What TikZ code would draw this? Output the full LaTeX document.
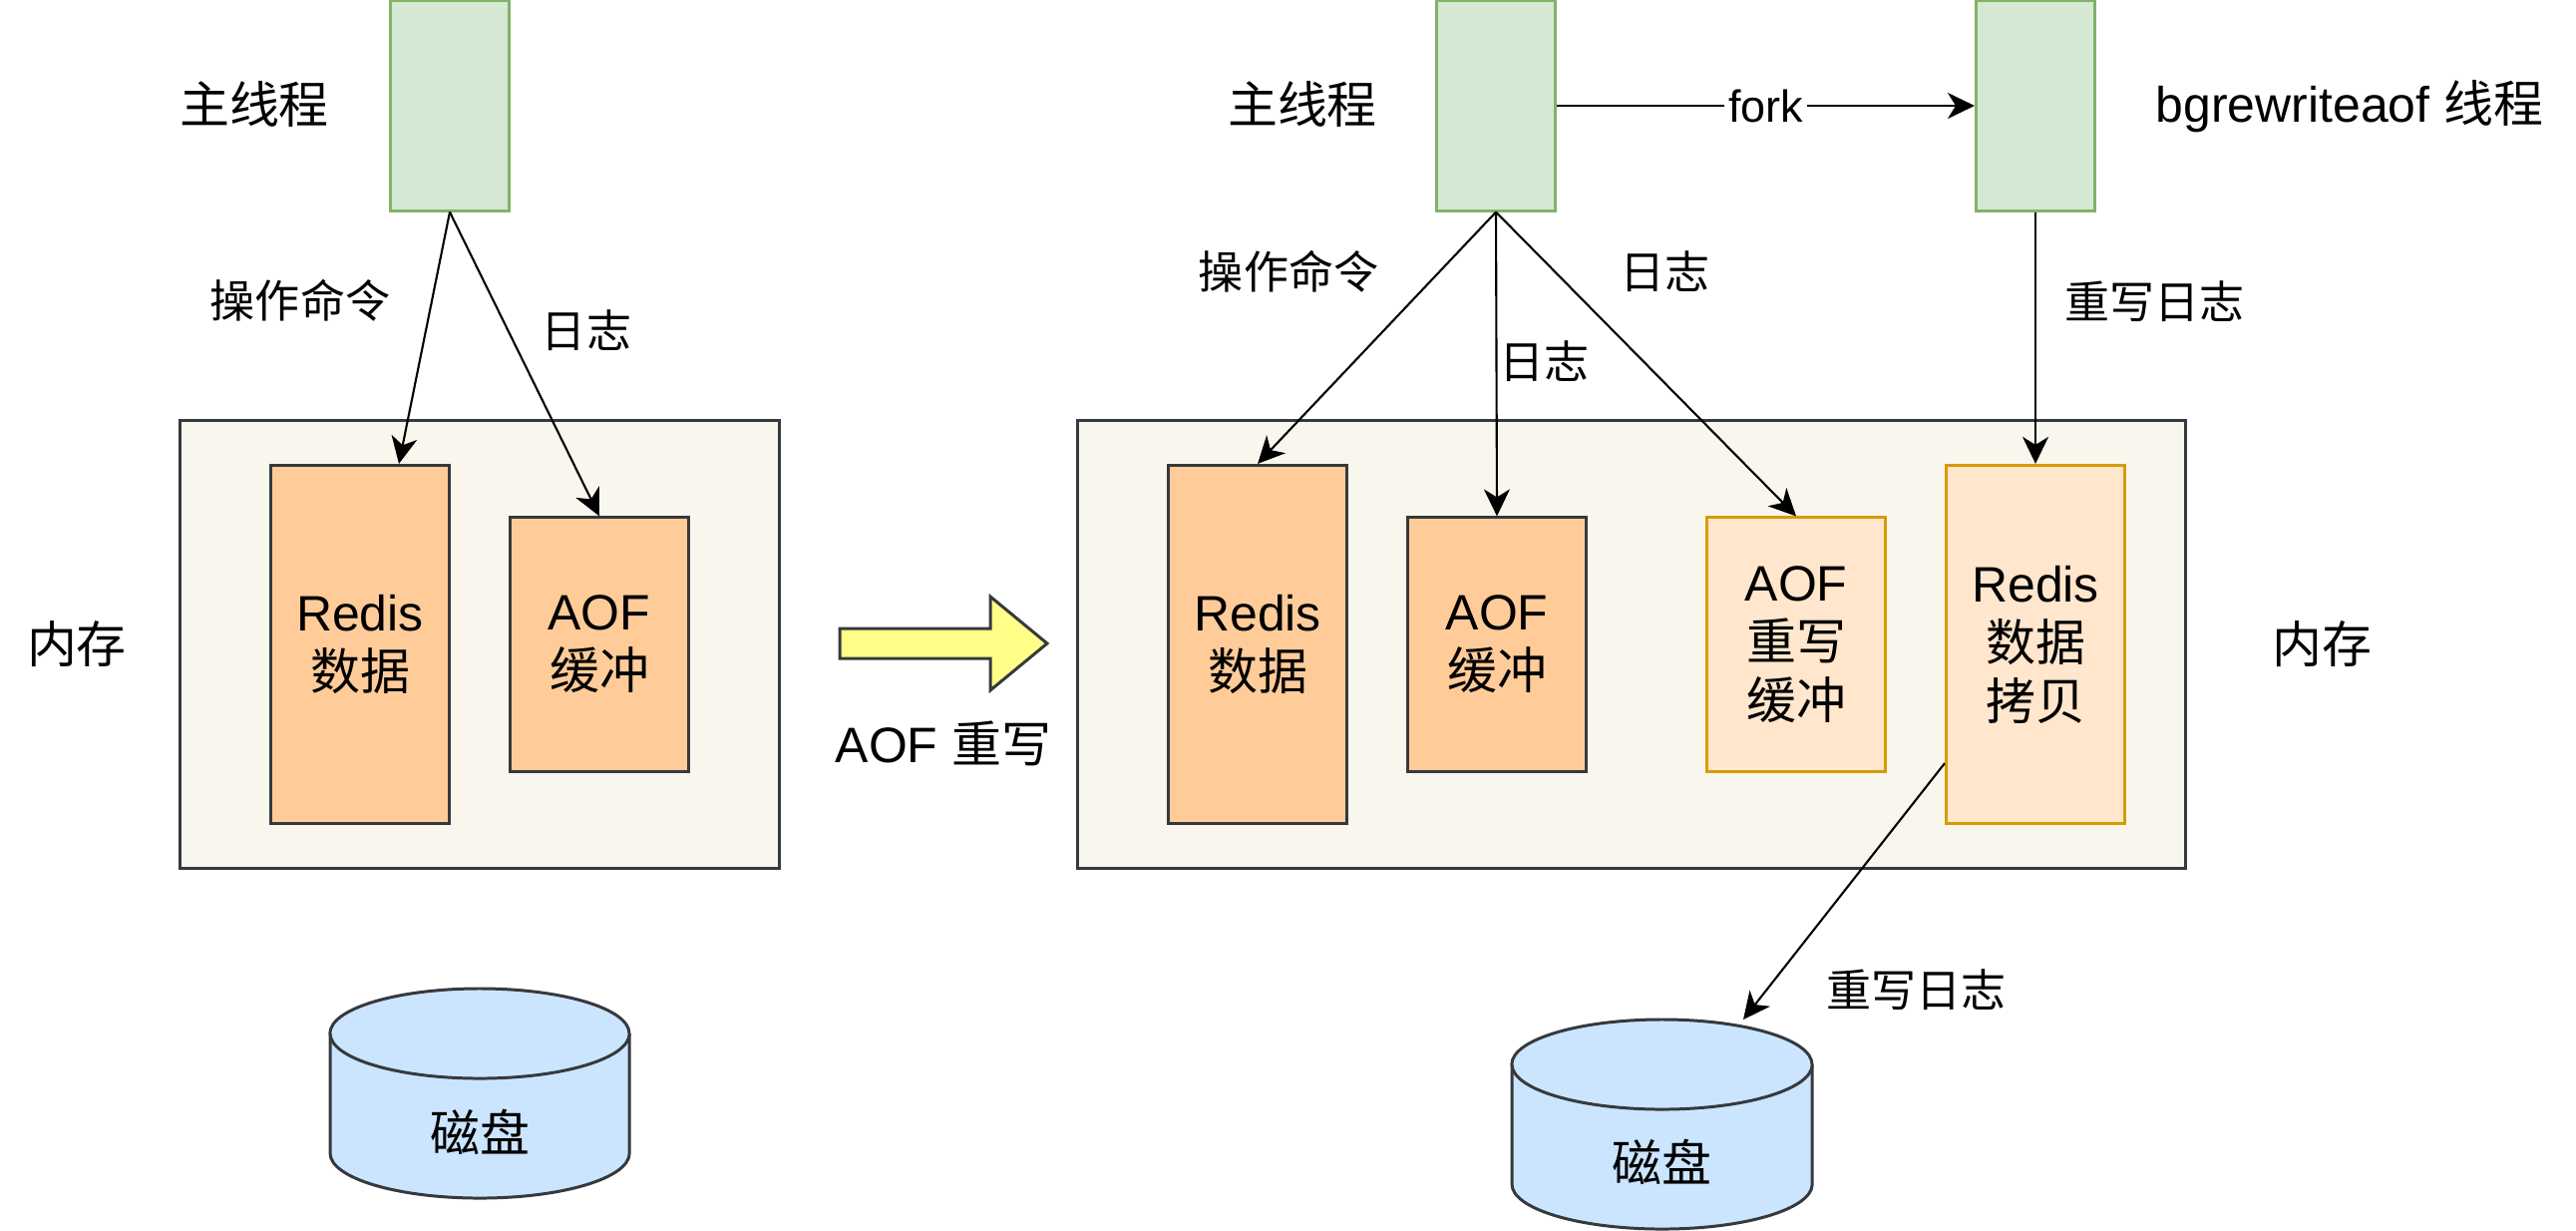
\documentclass[tikz,border=0pt]{standalone}
\usepackage{fontspec}
\setmainfont{Liberation Sans}
\newfontfamily\cjk{Noto Sans CJK SC}
\usetikzlibrary{arrows.meta,calc}
\definecolor{threadfill}{HTML}{D5E8D4}
\definecolor{threadline}{HTML}{82B366}
\definecolor{darkline}{HTML}{36393D}
\definecolor{memfill}{HTML}{F9F7ED}
\definecolor{datafill}{HTML}{FFCC99}
\definecolor{copyfill}{HTML}{FFE6CC}
\definecolor{copyline}{HTML}{D79B00}
\definecolor{diskfill}{HTML}{CCE5FF}
\definecolor{arrowfill}{HTML}{FFFF88}
\begin{document}
\begin{tikzpicture}[x=0.01cm,y=-0.01cm,
    big/.style={font=\fontsize{14.2}{16.8}\selectfont,align=center},
    small/.style={font=\fontsize{12.8}{15}\selectfont},
    thread/.style={draw=threadline,fill=threadfill,line width=0.85pt,
      minimum width=1.19cm,minimum height=2.1cm,inner sep=0pt},
    mem/.style={draw=darkline,fill=memfill,line width=0.85pt,
      minimum height=4.48cm,inner sep=0pt},
    data/.style={big,draw=darkline,fill=datafill,line width=0.85pt,
      minimum width=1.79cm,inner sep=0pt},
    copy/.style={big,draw=copyline,fill=copyfill,line width=0.85pt,
      minimum width=1.79cm,inner sep=0pt},
    disk/.style={draw=darkline,fill=diskfill,line width=0.85pt},
    flow/.style={-{Stealth[length=0.27cm,width=0.26cm,inset=0.08cm]},line width=0.6pt}]
  \useasboundingbox (0,0) rectangle (2583,1233);
  % before the rewrite
  \draw
    (451,106) node[thread] (mainL){}
    (255,104) node[big] (mainLtxt){\cjk 主线程}
    (481,646) node[mem,minimum width=6cm] (memL){}
    (77,646) node[big] (memLtxt){\cjk 内存}
    (361,646) node[data,minimum height=3.59cm] (redisL){Redis\\{\cjk 数据}}
    (601,646) node[data,minimum height=2.54cm] (aofL){AOF\\{\cjk 缓冲}}
    (301,301) node[small] (cmdL){\cjk 操作命令}
    (588,331) node[small] (logL){\cjk 日志};
  \draw[disk] (331,1036) -- (331,1156)
    arc[start angle=180,end angle=360,x radius=1.5cm,y radius=0.45cm]
    -- (631,1036) arc[start angle=0,end angle=180,x radius=1.5cm,y radius=0.45cm];
  \draw[disk] (331,1036) arc[start angle=180,end angle=360,x radius=1.5cm,y radius=0.45cm];
  \node[big] (diskL) at (481,1135) {\cjk 磁盘};
  % rewrite arrow
  \draw[fill=arrowfill,draw=darkline,line width=0.85pt]
    (842,630) -- (993,630) -- (993,598) -- (1050,645) -- (993,692) -- (993,660) -- (842,660) -- cycle;
  \node[big] (rewrite) at (946,745) {AOF {\cjk 重写}};
  % after the rewrite
  \draw
    (1500,106) node[thread] (mainR){}
    (1306,104) node[big] (mainRtxt){\cjk 主线程}
    (2041,106) node[thread] (bgR){}
    (2356,107) node[big] (bgRtxt){bgrewriteaof {\cjk 线程}}
    (1636,646) node[mem,minimum width=11.1cm] (memR){}
    (2328,646) node[big] (memRtxt){\cjk 内存}
    (1261,646) node[data,minimum height=3.59cm] (redisR){Redis\\{\cjk 数据}}
    (1501,646) node[data,minimum height=2.54cm] (aofR){AOF\\{\cjk 缓冲}}
    (1801,646) node[copy,minimum height=2.54cm] (aofrw){AOF\\{\cjk 重写}\\{\cjk 缓冲}}
    (2041,646) node[copy,minimum height=3.59cm] (copyR){Redis\\{\cjk 数据}\\{\cjk 拷贝}}
    (1292,272) node[small] (cmdR){\cjk 操作命令}
    (1548,362) node[small] (logRmid){\cjk 日志}
    (1669,272) node[small] (logR){\cjk 日志}
    (2160,302) node[small] (rwlogR){\cjk 重写日志}
    (1921,992) node[small] (rwlogD){\cjk 重写日志};
  \draw[disk] (1516,1067) -- (1516,1187)
    arc[start angle=180,end angle=360,x radius=1.505cm,y radius=0.45cm]
    -- (1817,1067) arc[start angle=0,end angle=180,x radius=1.505cm,y radius=0.45cm];
  \draw[disk] (1516,1067) arc[start angle=180,end angle=360,x radius=1.505cm,y radius=0.45cm];
  \node[big] (diskR) at (1666,1165) {\cjk 磁盘};
  \coordinate (diskRtop) at (1748,1022);
  \begin{scope}[flow]
    \draw (mainL.south) to ($(redisL.north)+(39,0)$);
    \draw (mainL.south) to (aofL.north);
    \draw (mainR.east) to node[small,fill=white,inner sep=1pt] (fork){fork} (bgR.west);
    \draw (mainR.south) to (redisR.north);
    \draw (mainR.south) to (aofR.north);
    \draw (mainR.south) to (aofrw.north);
    \draw (bgR.south) to (copyR.north);
    \draw ($(copyR.south west)+(0,-62)$) to (diskRtop);
  \end{scope}
\end{tikzpicture}
\end{document}
